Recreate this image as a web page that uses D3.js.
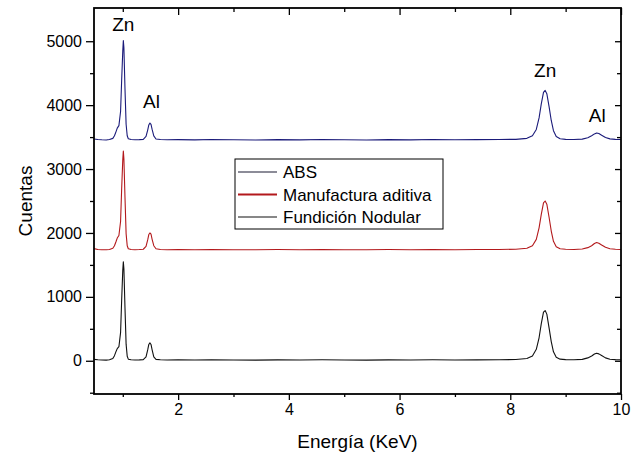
<!DOCTYPE html>
<html>
<head>
<meta charset="utf-8">
<script src="https://cdn.jsdelivr.net/npm/d3@7"></script>
<style>
  body { margin: 0; background: #fff; }
  svg text { font-family: "Liberation Sans", Arial, sans-serif; }
</style>
</head>
<body>
<div id="chart"></div>
<script>
// energy (keV) sampling shared by the three spectra
const energy = [0.48, 0.55, 0.62, 0.7, 0.76, 0.82, 0.85, 0.88, 0.9, 0.93, 0.96, 0.98, 1.0, 1.01, 1.02, 1.04, 1.06, 1.08, 1.1, 1.15, 1.22, 1.3, 1.37, 1.42, 1.45, 1.47, 1.49, 1.51, 1.53, 1.56, 1.6, 1.68, 1.8, 2.0, 2.3, 2.6, 3.0, 3.4, 3.8, 4.2, 4.6, 5.0, 5.4, 5.8, 6.2, 6.6, 7.0, 7.4, 7.8, 8.1, 8.3, 8.4, 8.47, 8.52, 8.56, 8.6, 8.63, 8.66, 8.7, 8.74, 8.78, 8.83, 8.9, 9.0, 9.15, 9.3, 9.4, 9.47, 9.52, 9.56, 9.6, 9.65, 9.72, 9.8, 9.9, 10.0];

const abs = [3470, 3462, 3458, 3455, 3462, 3480, 3520, 3590, 3640, 3680, 3900, 4400, 4850, 5010, 4900, 4250, 3700, 3520, 3475, 3462, 3458, 3460, 3465, 3510, 3610, 3690, 3720, 3700, 3620, 3520, 3470, 3462, 3458, 3460, 3457, 3462, 3458, 3455, 3460, 3457, 3462, 3458, 3455, 3460, 3457, 3462, 3458, 3460, 3462, 3465, 3480, 3520, 3620, 3800, 4020, 4200, 4230, 4180, 3980, 3760, 3600, 3510, 3475, 3465, 3462, 3468, 3490, 3520, 3550, 3565, 3555, 3530, 3495, 3472, 3465, 3462];

const manufactura = [1755, 1742, 1738, 1736, 1742, 1760, 1800, 1870, 1920, 1960, 2180, 2700, 3150, 3280, 3160, 2550, 1990, 1800, 1752, 1742, 1738, 1740, 1745, 1790, 1890, 1975, 2000, 1980, 1900, 1800, 1752, 1742, 1738, 1740, 1737, 1742, 1738, 1736, 1740, 1737, 1742, 1738, 1736, 1740, 1737, 1742, 1738, 1740, 1742, 1745, 1760, 1800, 1900, 2080, 2290, 2470, 2500, 2450, 2250, 2030, 1870, 1785, 1752, 1744, 1742, 1748, 1770, 1800, 1835, 1850, 1840, 1812, 1775, 1752, 1745, 1742];

const nodular = [22, 15, 12, 10, 15, 35, 80, 150, 190, 220, 440, 960, 1420, 1550, 1440, 820, 260, 70, 25, 15, 12, 14, 18, 60, 170, 255, 280, 255, 170, 60, 22, 15, 12, 14, 11, 15, 12, 10, 14, 11, 15, 12, 10, 14, 11, 15, 12, 14, 16, 20, 35, 75, 180, 360, 580, 760, 785, 730, 520, 300, 140, 55, 25, 18, 16, 22, 45, 75, 105, 118, 108, 82, 45, 24, 18, 16];

const seriesNames = ["ABS", "Manufactura aditiva", "Fundición Nodular"];
const seriesData = [abs, manufactura, nodular];
const seriesColors = ["#1b1b7a", "#b3191c", "#111111"];
const legendColors = ["#1a1a33", "#b3191c", "#111111"];

const peakLabels = [
  { text: "Zn", x: 1.01, y: 5160 },
  { text: "Al", x: 1.52, y: 3950 },
  { text: "Zn", x: 8.63, y: 4440 },
  { text: "Al", x: 9.57, y: 3736 }
];

const xTicks = [2, 4, 6, 8, 10];
const xMinor = [1, 3, 5, 7, 9];
const yTicks = [0, 1000, 2000, 3000, 4000, 5000];
const yMinor = [-500, 500, 1500, 2500, 3500, 4500];

const width = 638, height = 455;
const margin = { left: 94, right: 17, top: 8, bottom: 61 };
const plotW = width - margin.left - margin.right;
const plotH = height - margin.top - margin.bottom;

const svg = d3.select("#chart").append("svg")
  .attr("width", width)
  .attr("height", height);

const x = d3.scaleLinear().domain([0.48, 10]).range([0, plotW]);
const y = d3.scaleLinear().domain([-520, 5520]).range([plotH, 0]);

const g = svg.append("g").attr("transform", `translate(${margin.left},${margin.top})`);

// spectra
const line = d3.line()
  .x((d, i) => x(energy[i]))
  .y(d => y(d));

seriesData.forEach((s, k) => {
  g.append("path")
    .datum(s)
    .attr("fill", "none")
    .attr("stroke", seriesColors[k])
    .attr("stroke-width", 1.1)
    .attr("stroke-linejoin", "round")
    .attr("d", line);
});

// axes
const bottomAxis = d3.axisBottom(x).tickValues(xTicks).tickSize(6).tickPadding(4).tickFormat(d3.format("d"));
const bottomMinor = d3.axisBottom(x).tickValues(xMinor).tickSize(3).tickFormat("");
const topAxis = d3.axisBottom(x).tickValues(xTicks).tickSize(7).tickFormat("");
const topMinor = d3.axisBottom(x).tickValues(xMinor).tickSize(4).tickFormat("");
const leftAxis = d3.axisLeft(y).tickValues(yTicks).tickSize(8).tickPadding(4).tickFormat(d3.format("d"));
const leftMinor = d3.axisLeft(y).tickValues(yMinor).tickSize(4).tickFormat("");
const rightAxis = d3.axisLeft(y).tickValues(yTicks).tickSize(6).tickFormat("");
const rightMinor = d3.axisLeft(y).tickValues(yMinor).tickSize(4).tickFormat("");

function styleAxis(sel) {
  sel.select(".domain").remove();
  sel.selectAll("line").attr("stroke", "#000").attr("stroke-width", 1.3);
  sel.selectAll("text").attr("fill", "#000").style("font-size", "16px")
    .style("font-family", "'Liberation Sans', Arial, sans-serif");
}

g.append("g").attr("transform", `translate(0,${plotH})`).call(bottomAxis).call(styleAxis);
g.append("g").attr("transform", `translate(0,${plotH})`).call(bottomMinor).call(styleAxis);
g.append("g").call(topAxis).call(styleAxis);
g.append("g").call(topMinor).call(styleAxis);
g.append("g").call(leftAxis).call(styleAxis);
g.append("g").call(leftMinor).call(styleAxis);
g.append("g").attr("transform", `translate(${plotW},0)`).call(rightAxis).call(styleAxis);
g.append("g").attr("transform", `translate(${plotW},0)`).call(rightMinor).call(styleAxis);

// frame
g.append("rect")
  .attr("x", 0).attr("y", 0)
  .attr("width", plotW).attr("height", plotH)
  .attr("fill", "none")
  .attr("stroke", "#000")
  .attr("stroke-width", 1.8);

// peak labels
g.selectAll(".peak")
  .data(peakLabels)
  .enter().append("text")
  .attr("class", "peak")
  .attr("x", d => x(d.x))
  .attr("y", d => y(d.y))
  .attr("text-anchor", "middle")
  .style("font-size", "19px")
  .attr("fill", "#000")
  .text(d => d.text);

// legend
const legend = svg.append("g").attr("transform", "translate(235,159)");
legend.append("rect")
  .attr("width", 208).attr("height", 70)
  .attr("fill", "#fff")
  .attr("stroke", "#000")
  .attr("stroke-width", 1);
seriesNames.forEach((name, i) => {
  const ly = 13 + i * 22.5;
  legend.append("line")
    .attr("x1", 3).attr("x2", 42)
    .attr("y1", ly).attr("y2", ly)
    .attr("stroke", legendColors[i])
    .attr("stroke-width", i === 1 ? 2 : 1.2);
  legend.append("text")
    .attr("x", 48).attr("y", ly + 6)
    .style("font-size", "17px")
    .attr("fill", "#000")
    .text(name);
});

// axis titles
svg.append("text")
  .attr("x", margin.left + plotW / 2)
  .attr("y", 448)
  .attr("text-anchor", "middle")
  .style("font-size", "19px")
  .text("Energía (KeV)");

svg.append("text")
  .attr("transform", "translate(32,201) rotate(-90)")
  .attr("text-anchor", "middle")
  .style("font-size", "19px")
  .text("Cuentas");
</script>
</body>
</html>
